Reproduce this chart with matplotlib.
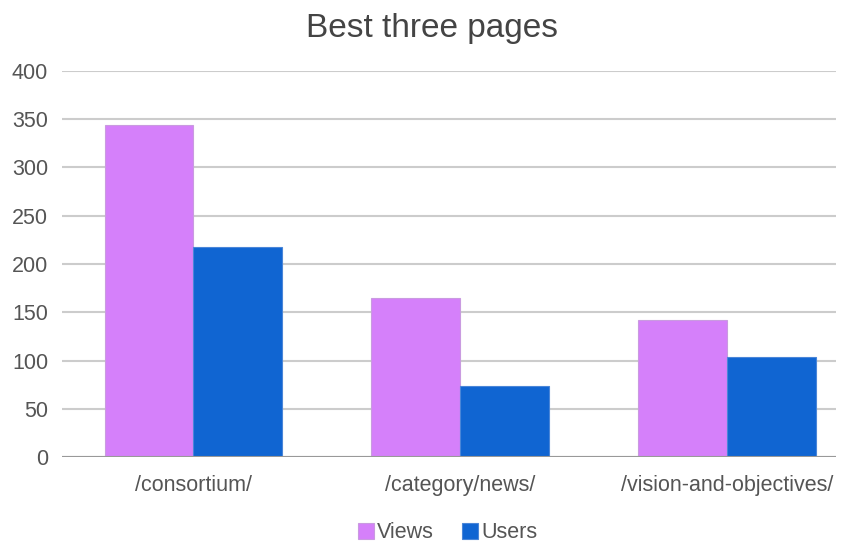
import matplotlib.pyplot as plt
import numpy as np

# page views and unique users for the top pages
pages = ['/consortium/', '/category/news/', '/vision-and-objectives/']
views = [344, 165, 142]
users = [218, 74, 104]

plt.rcParams['font.family'] = ['Liberation Sans', 'DejaVu Sans']

fig = plt.figure(figsize=(8.53, 5.47), dpi=100)
ax = fig.add_axes([62 / 853, 1 - 457.3 / 547, (836 - 62) / 853, (457.3 - 70.7) / 547])

x = np.arange(len(pages))
w = 0.333
ax.bar(x - w / 2, views, w, color='#d580fa', edgecolor='#c99be0', linewidth=0.8,
       label='Views', zorder=3)
ax.bar(x + w / 2, users, w, color='#1065d2', edgecolor='#4a86d8', linewidth=0.8,
       label='Users', zorder=3)

ax.set_xlim(-0.493, 2.409)
ax.set_ylim(0, 400)
ax.set_yticks(range(0, 401, 50))
ax.set_xticks(x)
ax.set_xticklabels(pages)
ax.yaxis.grid(True, color='#cccccc', linewidth=1.5, zorder=0)
ax.axhline(0, color='#999999', linewidth=1.5, zorder=4)
for s in ax.spines.values():
    s.set_visible(False)
ax.tick_params(axis='both', length=0, labelsize=15.5, labelcolor='#555555')
ax.tick_params(axis='y', pad=10)
ax.tick_params(axis='x', pad=13)

fig.text(0.506, 1 - 28 / 547, 'Best three pages', ha='center', va='center',
         fontsize=24, color='#444444')
fig.legend(loc='center', bbox_to_anchor=(0.525, 1 - 533 / 547), ncol=2, frameon=False,
           fontsize=15.5, labelcolor='#555555', handlelength=0.75, handleheight=0.75,
           handletextpad=0.15, columnspacing=1.3)

plt.savefig('out.png', dpi=100)
plt.close()
